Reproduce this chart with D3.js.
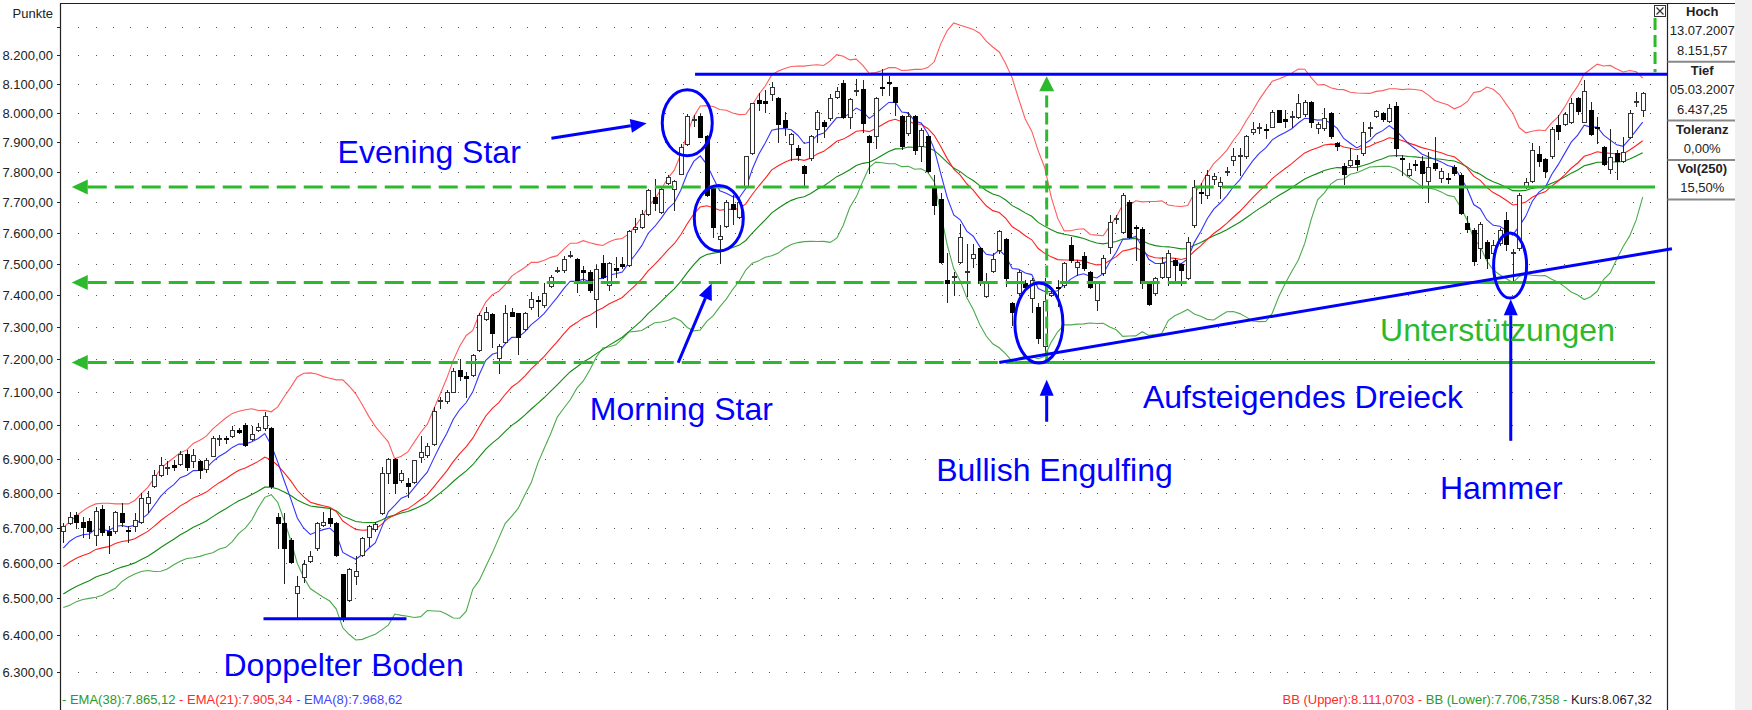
<!DOCTYPE html>
<html>
<head>
<meta charset="utf-8">
<script src="https://cdn.jsdelivr.net/npm/d3@7"></script>
<style>
  html, body { margin: 0; padding: 0; background: #fff; }
  svg { display: block; font-family: "Liberation Sans", Arial, sans-serif; }
</style>
</head>
<body>
<svg id="chart" width="1752" height="710"></svg>
<script>
// Daily candles (index 0 = first candle on the left)
const opens = [6689,6714,6736,6716,6719,6679,6752,6691,6689,6743, 6693,6703,6716,6772,6819,6853,6874,6882,6885,6915,
  6892,6892,6869,6909,6958,6960,6966,6984,7001,6958, 6986,6991,6991,6731,6714,6665,6516,6560,6606,6641,
  6707,6726,6714,6567,6496,6563,6622,6673,6695,6741, 6858,6899,6838,6828,6833,6904,6912,6944,7073,7072,
  7101,7167,7149,7152,7227,7324,7341,7203,7254,7346, 7343,7293,7364,7385,7369,7430,7478,7480,7525,7516,
  7481,7475,7387,7503,7433,7486,7499,7496,7612,7620, 7661,7716,7669,7762,7743,7794,7894,7976,7989,7922,
  7750,7581,7623,7693,7650,7755,7862,8044,8041,8064, 8049,7975,7894,7880,7820,7846,7944,7969,7981,8055,
  8103,7986,8077,8081,7921,7921,8090,8107,8087,7989, 7930,7989,7886,7921,7752,7710,7448,7458,7506,7474,
  7517,7550,7396,7478,7543,7580,7375,7406,7438,7391, 7362,7240,7401,7427,7432,7560,7490,7525,7475,7385,
  7470,7555,7645,7603,7702,7620,7611,7438,7406,7459, 7459,7512,7499,7454,7625,7733,7724,7776,7754,7802,
  7841,7852,7852,7933,7950,7945,7953,8009,7978,7988, 7986,7995,8038,7947,7947,7998,7897,7820,7823,7840,
  7863,7950,7990,8000,7973,8023,7848,7790,7826,7837, 7771,7829,7779,7780,7818,7790,7633,7609,7549,7571,
  7535,7568,7642,7533,7549,7754,7771,7859,7843,7852, 7958,7961,7970,8049,7970,8011,7953,7883,7809,7865,
  7835,7917,8038,8009];
const highs = [6712,6745,6745,6731,6726,6760,6765,6703,6748,6770, 6705,6741,6799,6804,6867,6904,6892,6897,6922,6925,
  6929,6897,6902,6966,6971,6966,6996,6990,7006,6996, 7006,7040,6995,6741,6741,6670,6562,6608,6634,6716,
  6745,6753,6716,6567,6585,6618,6674,6708,6716,6875, 6902,6902,6867,6843,6897,6966,6947,7055,7085,7105,
  7172,7200,7162,7216,7343,7364,7343,7247,7370,7358, 7343,7348,7411,7396,7438,7465,7488,7525,7540,7519,
  7492,7481,7496,7528,7506,7522,7522,7610,7647,7675, 7743,7777,7748,7789,7774,7894,7997,7994,7997,7925,
  7754,7624,7708,7725,7708,7855,8034,8067,8078,8107, 8055,8003,7930,7891,7823,7925,8009,7975,8064,8087,
  8113,8049,8118,8113,7925,8055,8152,8126,8090,7992, 8003,7992,7947,7925,7790,7729,7533,7475,7630,7565,
  7565,7555,7470,7533,7609,7583,7377,7480,7448,7453, 7375,7455,7425,7448,7506,7587,7512,7539,7478,7443,
  7528,7658,7658,7730,7708,7625,7620,7438,7459,7523, 7544,7517,7503,7587,7773,7762,7807,7796,7784,7816,
  7880,7880,7925,7967,7964,7962,8009,8011,8009,8006, 8063,8043,8041,7967,8015,8003,7902,7829,7880,7857,
  7970,7969,8009,8003,8030,8038,7857,7829,7840,7852, 7868,7919,7812,7796,7823,7796,7653,7614,7636,7576,
  7576,7614,7669,7547,7729,7779,7896,7887,7846,7953, 7992,8003,8049,8055,8113,8038,7987,7887,7943,7872,
  7916,8009,8070,8072];
const lows = [6660,6710,6698,6674,6670,6651,6679,6627,6684,6703, 6660,6689,6712,6746,6817,6848,6856,6866,6882,6867,
  6877,6843,6862,6907,6942,6947,6964,6975,6937,6956, 6981,6986,6815,6641,6544,6598,6447,6545,6603,6637,
  6703,6703,6618,6437,6494,6539,6618,6646,6689,6739, 6828,6799,6833,6789,6828,6890,6905,6941,7050,7067,
  7099,7137,7086,7149,7224,7322,7239,7157,7251,7333, 7217,7289,7356,7333,7364,7426,7473,7473,7522,7410,
  7442,7411,7299,7454,7417,7459,7486,7493,7603,7614, 7659,7675,7664,7760,7675,7792,7892,7956,7917,7720,
  7587,7501,7620,7630,7648,7752,7860,8009,8003,8044, 7902,7925,7840,7840,7752,7840,7902,7916,7975,8052,
  7981,7947,8061,7936,7796,7880,8061,8061,7992,7877, 7925,7861,7835,7801,7660,7501,7377,7401,7501,7396,
  7491,7433,7393,7475,7536,7430,7305,7401,7417,7347, 7250,7220,7396,7365,7427,7506,7464,7480,7422,7353,
  7464,7533,7631,7598,7582,7512,7424,7370,7401,7454, 7433,7443,7433,7451,7620,7697,7713,7760,7713,7790,
  7824,7790,7846,7929,7931,7913,7951,7967,7953,7953, 7983,7989,7953,7931,7942,7913,7874,7760,7820,7807,
  7857,7921,7987,7973,7967,7854,7790,7785,7807,7746, 7699,7807,7768,7763,7790,7662,7603,7496,7517,7485,
  7469,7560,7544,7443,7544,7746,7768,7820,7782,7846, 7910,7958,7964,7995,7967,7925,7897,7823,7796,7775,
  7832,7914,8023,7988];
const closes = [6703,6731,6716,6701,6689,6748,6686,6679,6745,6716, 6689,6723,6786,6789,6853,6882,6876,6876,6915,6877,
  6912,6867,6897,6961,6960,6958,6986,6979,6942,6974, 6994,7027,6819,6714,6641,6601,6534,6595,6618,6714,
  6716,6714,6622,6446,6582,6578,6670,6703,6710,6858, 6899,6828,6858,6819,6897,6920,6937,7043,7075,7099,
  7165,7149,7142,7213,7338,7348,7281,7242,7343,7335, 7269,7343,7387,7380,7408,7458,7481,7516,7527,7442,
  7475,7415,7484,7457,7503,7481,7493,7605,7620,7661, 7739,7697,7743,7783,7769,7883,7989,7978,7919,7725,
  7620,7590,7702,7678,7702,7852,8032,8035,8032,8090, 7962,7950,7928,7858,7798,7921,8003,7955,8049,8076,
  7986,8046,8079,7964,7899,8052,8086,8101,8038,7886, 7989,7874,7942,7804,7692,7506,7438,7460,7585,7476,
  7531,7438,7443,7514,7604,7455,7347,7474,7427,7448, 7265,7380,7408,7425,7501,7512,7506,7485,7427,7438,
  7517,7636,7647,7724,7587,7614,7437,7373,7454,7503, 7533,7496,7480,7571,7751,7731,7790,7787,7768,7804,
  7852,7857,7921,7944,7951,7944,8003,7970,7973,7990, 8032,8038,7970,7962,7981,7921,7886,7793,7840,7826,
  7933,7951,8007,7978,8015,7882,7844,7809,7822,7798, 7818,7812,7804,7778,7798,7664,7611,7510,7630,7517,
  7560,7609,7563,7537,7724,7765,7872,7838,7804,7944, 7939,7995,8032,8007,8076,7928,7952,7827,7849,7835,
  7868,8000,8040,8067];

// Indicator start values read at the first candle, and the first 19 band values
const ema8Start = 6641;
const ema21Start = 6589;
const ema38Start = 6512;
const bbUpperHead = [6700,6716,6733,6748,6760,6768,6770,6770,6768,6768,6768,6778,6798,6816,6843,6871,6888,6903,6918];
const bbLowerHead = [6475,6481,6491,6497,6500,6503,6509,6519,6528,6547,6559,6568,6575,6578,6575,6576,6582,6594,6604];

// Axis
const yTicks = [6300,6400,6500,6600,6700,6800,6900,7000,7100,7200,7300,7400,7500,7600,7700,7800,7900,8000,8100,8200,8300];
const yLabelMax = 8200;

// Legend and info panel texts
const legendLeft = [
  {text: "- EMA(38):7.865,12", color: "#2a9a2a"},
  {text: "- EMA(21):7.905,34", color: "#ff2a2a"},
  {text: "- EMA(8):7.968,62", color: "#4444ff"}
];
const legendRight = [
  {text: "BB (Upper):8.111,0703 -", color: "#ff2a2a"},
  {text: "BB (Lower):7.706,7358 -", color: "#2a9a2a"},
  {text: "Kurs:8.067,32", color: "#1a1a3a"}
];
const panelGroups = [
  {label: "Hoch", values: ["13.07.2007", "8.151,57"]},
  {label: "Tief", values: ["05.03.2007", "6.437,25"]},
  {label: "Toleranz", values: ["0,00%"]},
  {label: "Vol(250)", values: ["15,50%"]}
];

// Chart annotations in data space (candle index, price)
const supportLevels = [7750, 7440, 7190];
const supportSolidFrom = [186.5, 186.5, 146.3];
const resistance = {price: 8133, from: 97.2};
const risingLine = [[144.0, 7190], [247.5, 7548]];
const doubleBottom = {price: 6444, from: 30.8, to: 52.8};
const ellipses = [
  {i: 96.0, p: 7966, rx: 25, ry: 33},
  {i: 100.85, p: 7647, rx: 24.5, ry: 32.7},
  {i: 150.1, p: 7312, rx: 24, ry: 40},
  {i: 222.6, p: 7494, rx: 16.5, ry: 32.5}
];
const blueArrows = [
  {from: [75.1, 7913], to: [89.75, 7964]},
  {from: [94.6, 7189], to: [99.75, 7437]},
  {from: [151.3, 7010], to: [151.3, 7137]},
  {from: [222.7, 6953], to: [222.7, 7387]}
];
const labels = [
  {text: "Evening Star", i: 42.2, p: 7830, color: "#0000ff"},
  {text: "Morning Star", i: 81.0, p: 7016, color: "#0000ff"},
  {text: "Doppelter Boden", i: 24.65, p: 6289, color: "#0000ff"},
  {text: "Bullish Engulfing", i: 134.3, p: 6834, color: "#0000ff"},
  {text: "Aufsteigendes Dreieck", i: 166.1, p: 7052, color: "#0000ff"},
  {text: "Hammer", i: 211.8, p: 6781, color: "#0000ff"},
  {text: "Unterstützungen", i: 202.6, p: 7256, color: "#2db92d"}
];

const svg = d3.select("#chart");
const blue = "#0000ff";
const green = "#2db92d";
const plotLeft = 60.5, plotRight = 1667.5, panelRight = 1735;

const xScale = d3.scaleLinear().domain([0, closes.length - 1]).range([63.3, 1642.7]);
const yScale = d3.scaleLog().domain([6300, 8200]).range([671.5, 55]);
const fmt = d3.formatLocale({decimal: ",", thousands: ".", grouping: [3], currency: ["", ""]}).format(",.2f");

// dotted grid
const dotXs = d3.range(92).map(k => Math.round(78.3 + 17.27 * k));
const dots = [];
yTicks.forEach(v => dotXs.forEach(x => dots.push([x, Math.round(yScale(v))])));
svg.append("g").selectAll("rect").data(dots).join("rect")
  .attr("x", d => d[0]).attr("y", d => d[1]).attr("width", 1).attr("height", 1)
  .attr("fill", "#555");

// y axis
svg.append("line").attr("x1", plotLeft).attr("x2", plotLeft).attr("y1", 3).attr("y2", 710)
  .attr("stroke", "#222").attr("stroke-width", 1.2);
svg.append("line").attr("x1", plotLeft).attr("x2", panelRight).attr("y1", 3.5).attr("y2", 3.5)
  .attr("stroke", "#222").attr("stroke-width", 1.2);
const axisG = svg.append("g");
yTicks.forEach(v => {
  const y = Math.round(yScale(v)) + 0.5;
  axisG.append("line").attr("x1", 57).attr("x2", plotLeft).attr("y1", y).attr("y2", y)
    .attr("stroke", "#222");
  if (v <= yLabelMax) {
    axisG.append("text").attr("x", 53).attr("y", y + 4.5).attr("text-anchor", "end")
      .attr("font-size", "13px").attr("fill", "#222").text(fmt(v));
  }
});
axisG.append("text").attr("x", 53).attr("y", 18).attr("text-anchor", "end")
  .attr("font-size", "13px").attr("fill", "#222").text("Punkte");

// indicators
const ema = (n, start) => {
  const a = 2 / (n + 1);
  let e = start;
  return closes.map((c, i) => i === 0 ? start : (e = e + a * (c - e)));
};
const bands = closes.map((c, i) => {
  if (i < bbUpperHead.length) return [bbUpperHead[i], bbLowerHead[i]];
  const win = closes.slice(i - 19, i + 1);
  const m = d3.mean(win);
  const sd = Math.sqrt(d3.mean(win, v => (v - m) * (v - m)));
  return [m + 2 * sd, m - 2 * sd];
});
const line = d3.line().x((d, i) => xScale(i)).y(d => yScale(d));
const series = [
  {values: bands.map(b => b[1]), color: "#4cab4c"},
  {values: bands.map(b => b[0]), color: "#ff5c5c"},
  {values: ema(38, ema38Start), color: "#128a12"},
  {values: ema(21, ema21Start), color: "#ff2020"},
  {values: ema(8, ema8Start), color: "#3434ff"}
];
series.forEach(s => {
  svg.append("path").attr("d", line(s.values)).attr("fill", "none")
    .attr("stroke", s.color).attr("stroke-width", 1.1);
});

// candles
const candles = svg.append("g").attr("shape-rendering", "crispEdges");
closes.forEach((c, i) => {
  const cx = Math.round(xScale(i));
  const o = opens[i];
  const yTop = Math.round(yScale(Math.max(o, c)));
  const yBot = Math.round(yScale(Math.min(o, c)));
  candles.append("line").attr("x1", cx + 0.5).attr("x2", cx + 0.5)
    .attr("y1", Math.round(yScale(highs[i]))).attr("y2", Math.round(yScale(lows[i])) + 1)
    .attr("stroke", "#222");
  if (c >= o) {
    candles.append("rect").attr("x", cx - 1.5).attr("y", yTop + 0.5)
      .attr("width", 4).attr("height", Math.max(1, yBot - yTop))
      .attr("fill", "#fff").attr("stroke", "#333");
  } else {
    candles.append("rect").attr("x", cx - 2).attr("y", yTop)
      .attr("width", 5).attr("height", Math.max(2, yBot - yTop + 1))
      .attr("fill", "#000");
  }
});

// annotations
const ann = svg.append("g");
const head = (x1, y1, x2, y2, color, len, hw) => {
  const a = Math.atan2(y2 - y1, x2 - x1);
  const bx = x2 - len * Math.cos(a), by = y2 - len * Math.sin(a);
  const nx = -Math.sin(a) * hw, ny = Math.cos(a) * hw;
  ann.append("path").attr("d", `M${x2},${y2}L${bx + nx},${by + ny}L${bx - nx},${by - ny}Z`).attr("fill", color);
  return [bx, by];
};

supportLevels.forEach((p, k) => {
  const y = yScale(p);
  const tipX = xScale(1.3), endX = xScale(244.9), solidX = xScale(supportSolidFrom[k]);
  const [bx] = head(endX, y, tipX, y, green, 16, 7.5);
  ann.append("line").attr("x1", bx).attr("x2", solidX).attr("y1", y).attr("y2", y)
    .attr("stroke", green).attr("stroke-width", 3).attr("stroke-dasharray", "19,8");
  ann.append("line").attr("x1", solidX).attr("x2", endX).attr("y1", y).attr("y2", y)
    .attr("stroke", green).attr("stroke-width", 3);
});

// vertical measuring arrow from the low up to the resistance
{
  const x = xScale(151.3);
  const [, by] = head(x, yScale(7190), x, yScale(resistance.price) + 2, green, 15, 7.5);
  ann.append("line").attr("x1", x).attr("x2", x).attr("y1", yScale(7190)).attr("y2", by)
    .attr("stroke", green).attr("stroke-width", 3).attr("stroke-dasharray", "12,5");
  const x2 = xScale(244.9);
  ann.append("line").attr("x1", x2).attr("x2", x2).attr("y1", 18).attr("y2", yScale(resistance.price) - 2)
    .attr("stroke", green).attr("stroke-width", 3).attr("stroke-dasharray", "12,5");
}

ann.append("line").attr("x1", xScale(resistance.from)).attr("x2", plotRight)
  .attr("y1", yScale(resistance.price)).attr("y2", yScale(resistance.price))
  .attr("stroke", blue).attr("stroke-width", 3);
ann.append("line")
  .attr("x1", xScale(risingLine[0][0])).attr("y1", yScale(risingLine[0][1]))
  .attr("x2", xScale(risingLine[1][0])).attr("y2", yScale(risingLine[1][1]))
  .attr("stroke", blue).attr("stroke-width", 3);
ann.append("line").attr("x1", xScale(doubleBottom.from)).attr("x2", xScale(doubleBottom.to))
  .attr("y1", yScale(doubleBottom.price)).attr("y2", yScale(doubleBottom.price))
  .attr("stroke", blue).attr("stroke-width", 3);

ellipses.forEach(e => {
  ann.append("ellipse").attr("cx", xScale(e.i)).attr("cy", yScale(e.p))
    .attr("rx", e.rx).attr("ry", e.ry).attr("fill", "none")
    .attr("stroke", blue).attr("stroke-width", 3);
});

blueArrows.forEach(a => {
  const x1 = xScale(a.from[0]), y1 = yScale(a.from[1]);
  const x2 = xScale(a.to[0]), y2 = yScale(a.to[1]);
  const [bx, by] = head(x1, y1, x2, y2, blue, 16, 7);
  ann.append("line").attr("x1", x1).attr("y1", y1).attr("x2", bx).attr("y2", by)
    .attr("stroke", blue).attr("stroke-width", 3);
});

labels.forEach(l => {
  ann.append("text").attr("x", xScale(l.i)).attr("y", yScale(l.p))
    .attr("font-size", "32px").attr("fill", l.color).text(l.text);
});

// legends
const legL = svg.append("text").attr("x", 62).attr("y", 704).attr("font-size", "13px");
legendLeft.forEach((d, k) => legL.append("tspan").attr("fill", d.color).text((k ? " " : "") + d.text));
const legR = svg.append("text").attr("x", 1652).attr("y", 704).attr("font-size", "13px").attr("text-anchor", "end");
legendRight.forEach((d, k) => legR.append("tspan").attr("fill", d.color).text((k ? " " : "") + d.text));

// info panel on the right
svg.append("line").attr("x1", plotRight).attr("x2", plotRight).attr("y1", 3).attr("y2", 710)
  .attr("stroke", "#222").attr("stroke-width", 1.2);
let panelTop = 3;
const panelCx = (plotRight + panelRight) / 2 + 1;
panelGroups.forEach(g => {
  svg.append("text").attr("x", panelCx).attr("y", panelTop + 13).attr("text-anchor", "middle")
    .attr("font-size", "13px").attr("font-weight", "bold").attr("fill", "#222").text(g.label);
  g.values.forEach((v, k) => {
    svg.append("text").attr("x", panelCx).attr("y", panelTop + 13 + 19.4 * (k + 1)).attr("text-anchor", "middle")
      .attr("font-size", "13px").attr("fill", "#222").text(v);
  });
  panelTop += 19.4 * (g.values.length + 1) + 0.6;
  svg.append("line").attr("x1", plotRight).attr("x2", panelRight).attr("y1", panelTop).attr("y2", panelTop)
    .attr("stroke", "#888").attr("stroke-width", 2);
});
svg.append("rect").attr("x", panelRight).attr("y", 0).attr("width", 1752 - panelRight).attr("height", 710)
  .attr("fill", "#f0f0f0");

// close box
svg.append("rect").attr("x", 1654.5).attr("y", 5.5).attr("width", 11).attr("height", 11)
  .attr("fill", "#fff").attr("stroke", "#333");
svg.append("path").attr("d", "M1656.5,7.5L1663.5,14.5M1663.5,7.5L1656.5,14.5")
  .attr("stroke", "#333").attr("stroke-width", 1.3);
</script>
</body>
</html>
